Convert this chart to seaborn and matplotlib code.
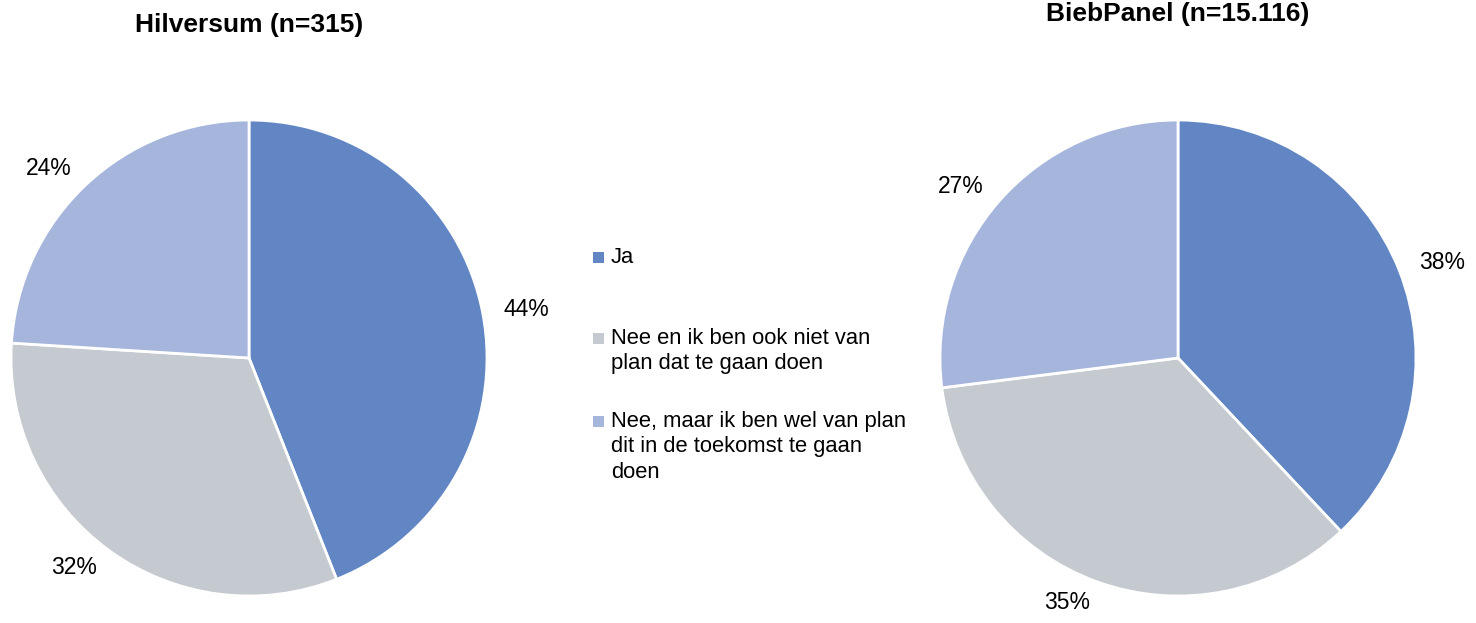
import matplotlib
matplotlib.use('Agg')
import matplotlib.pyplot as plt
import seaborn as sns
from matplotlib.patches import Rectangle

# data
categories = [
    "Ja"
    , "Nee en ik ben ook niet van\nplan dat te gaan doen"
    , "Nee, maar ik ben wel van plan\ndit in de toekomst te gaan\ndoen"
]
hilversum_values = [44, 32, 24]
biebpanel_values = [38, 35, 27]
titles = ["Hilversum (n=315)", "BiebPanel (n=15.116)"]

colors = ["#6285C3", "#C4CAD0", "#A6B5DC"]

sns.set_theme(style="white")
plt.rcParams['font.family'] = ['Liberation Sans', 'DejaVu Sans']

W, H = 1476, 623
fig = plt.figure(figsize=(W / 100, H / 100), dpi=100)

R = 238
centers = [(249, 358), (1178, 358)]
title_y = [25, 14]

for (cx, cy), vals, title, ty in zip(centers, [hilversum_values, biebpanel_values], titles, title_y):
    ax = fig.add_axes([(cx - R) / W, (H - cy - R) / H, 2 * R / W, 2 * R / H])
    ax.pie(
        vals
        , colors=colors
        , startangle=90
        , counterclock=False
        , labels=[f"{v}%" for v in vals]
        , labeldistance=1.09
        , wedgeprops={"edgecolor": "white", "linewidth": 2}
        , textprops={"fontsize": 16.5, "color": "#000000"}
    )
    ax.set_xlim(-1, 1)
    ax.set_ylim(-1, 1)
    ax.set_aspect('equal')
    ax.axis('off')
    fig.text(cx / W, 1 - ty / H, title, ha='center', va='center',
             fontsize=19, fontweight='bold', color='#000000')

# legend, drawn by hand so the marker sits on the first line
first_lines = [257, 338, 421]
for cat, col, ly in zip(categories, colors, first_lines):
    fig.add_artist(Rectangle((593 / W, 1 - (ly + 6) / H), 11 / W, 11 / H,
                             transform=fig.transFigure, facecolor=col, edgecolor='none'))
    fig.text(611 / W, 1 - (ly - 10) / H, cat, ha='left', va='top',
             fontsize=15.8, color='#000000', linespacing=1.28)

fig.savefig("out.png", dpi=100)
